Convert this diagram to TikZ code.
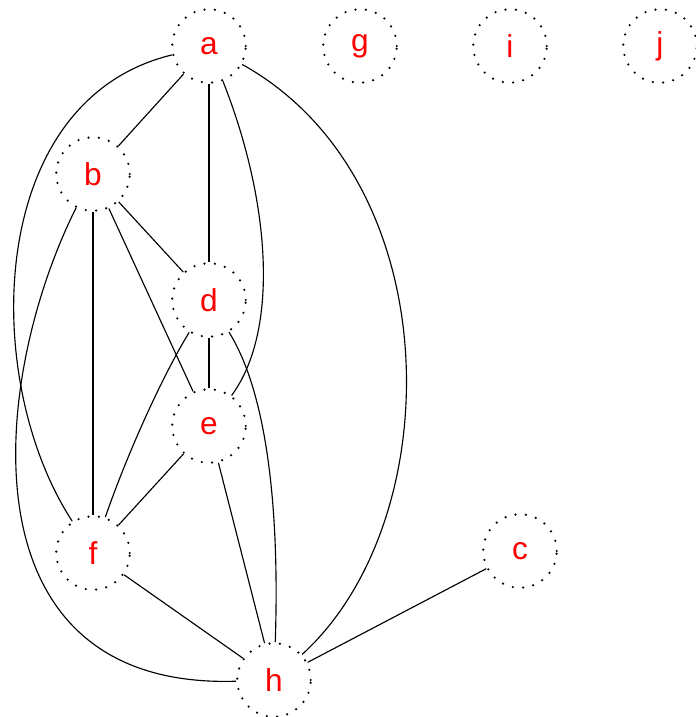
\documentclass[tikz,border=0pt]{standalone}
\usepackage{fontspec}
\setmainfont{Liberation Sans}

\begin{document}
\begin{tikzpicture}[
    x=0.02cm, y=-0.02cm,
    vertex/.style={circle, draw, line width=1.4pt, dash pattern=on 0pt off 5.9pt,
      line cap=round, minimum size=1.47cm, inner sep=0pt, text=red,
      font=\fontsize{18}{20}\selectfont},
    edge/.style={line width=0.65pt}
  ]
  \useasboundingbox (0,0) rectangle (696,717);

  % Vertices
  \node[vertex] (a) at (209,46) {a};
  \node[vertex] (g) at (360,46) {g};
  \node[vertex] (i) at (510,46) {i};
  \node[vertex] (j) at (660,46) {j};
  \node[vertex] (b) at (93,174) {b};
  \node[vertex] (d) at (209,300) {d};
  \node[vertex] (e) at (209,426) {e};
  \node[vertex] (f) at (93,553) {f};
  \node[vertex] (c) at (520,551) {c};
  \node[vertex] (h) at (274,680) {h};

  % Straight edges
  \draw[edge] (a) -- (b);
  \draw[edge] (a) -- (d);
  \draw[edge] (b) -- (d);
  \draw[edge] (b) -- (e);
  \draw[edge] (b) -- (f);
  \draw[edge] (d) -- (e);
  \draw[edge] (e) -- (f);
  \draw[edge] (e) -- (h);
  \draw[edge] (f) -- (h);
  \draw[edge] (c) -- (h);

  % Curved edges
  \draw[edge] (a) .. controls (-15,100) and (-20,380) .. (f);
  \draw[edge] (b) .. controls (-10,380) and (-40,690) .. (h);
  \draw[edge] (a) .. controls (450,180) and (450,520) .. (h);
  \draw[edge] (a) .. controls (270,200) and (280,330) .. (e);
  \draw[edge] (d) .. controls (160,380) and (125,460) .. (f);
  \draw[edge] (d) .. controls (265,390) and (280,500) .. (h);
\end{tikzpicture}
\end{document}
